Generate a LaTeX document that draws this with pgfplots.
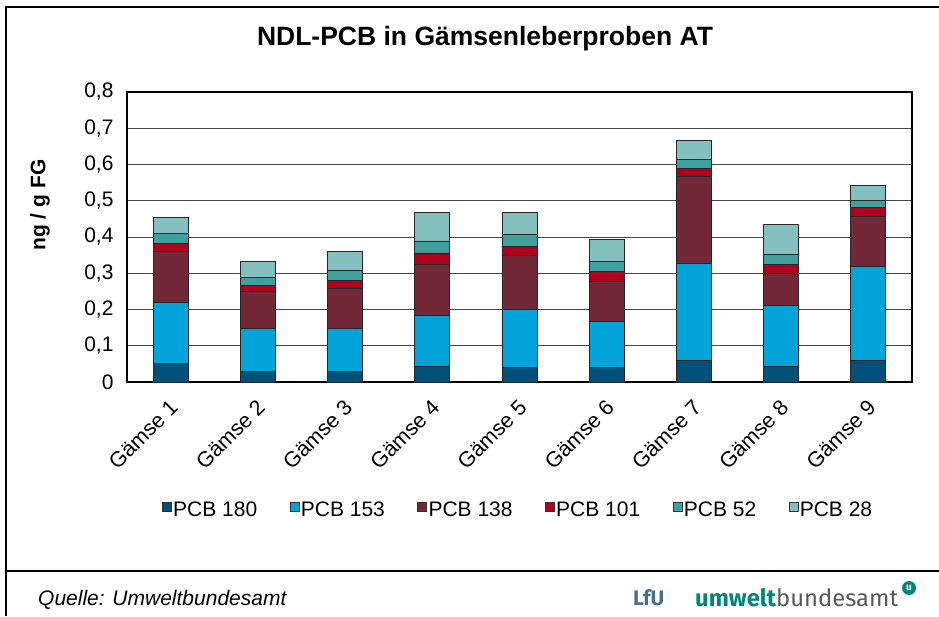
\documentclass[border=0pt]{standalone}
\usepackage{pgfplots}
\pgfplotsset{compat=1.18}
\usepackage{pgfplotstable}
\usepackage{fontspec}
\setmainfont{Liberation Sans}
\newfontfamily\logofont{Fira Sans}
\definecolor{c180}{HTML}{00507A}
\definecolor{c153}{HTML}{00A3DA}
\definecolor{c138}{HTML}{722837}
\definecolor{c101}{HTML}{B0001E}
\definecolor{c52}{HTML}{40A09E}
\definecolor{c28}{HTML}{84C0C0}
\definecolor{lfu}{HTML}{4A6F86}
\definecolor{uba}{HTML}{00857A}
\pgfplotstableread{
x   p180  p153  p138  p101  p52   p28
0   0.050 0.170 0.140 0.023 0.027 0.044
1   0.030 0.118 0.102 0.017 0.022 0.044
2   0.030 0.118 0.110 0.023 0.026 0.052
3   0.044 0.140 0.141 0.031 0.033 0.079
4   0.040 0.159 0.150 0.025 0.034 0.059
5   0.039 0.128 0.111 0.027 0.028 0.061
6   0.059 0.268 0.240 0.021 0.026 0.053
7   0.042 0.170 0.088 0.024 0.027 0.083
8   0.059 0.260 0.138 0.025 0.020 0.040
}\datatable
\begin{document}
\begin{tikzpicture}[x=1pt,y=1pt]
\useasboundingbox (0,0) rectangle (939,616);
% frame
\draw[line width=2.3pt] (6,0) -- (6,609) -- (939,609);
\draw[line width=2.3pt] (6,45) -- (939,45);
% title
\node[font=\fontsize{26.5}{31}\selectfont\bfseries] at (485,577) {NDL-PCB in Gämsenleberproben AT};
% y label
\node[font=\fontsize{21}{25}\selectfont\bfseries, rotate=90] at (40,411) {ng / g FG};
\begin{axis}[
  at={(170.6pt,234pt)}, anchor=origin, scale only axis,
  width=785pt, height=290pt,
  ybar stacked, bar width=35pt,
  xmin=-0.5, xmax=8.5, ymin=0, ymax=0.8,
  xtick=data,
  xticklabels={Gämse 1,Gämse 2,Gämse 3,Gämse 4,Gämse 5,Gämse 6,Gämse 7,Gämse 8,Gämse 9},
  ytick={0,0.1,0.2,0.3,0.4,0.5,0.6,0.7,0.8},
  major tick length=0pt,
  ymajorgrids, grid style={gray!55!black, line width=1pt},
  axis line style={black, line width=1.2pt},
  /pgf/number format/.cd, use comma, fixed, precision=1, assume math mode=true,
  /pgfplots/.cd,
  yticklabel style={font=\fontsize{21}{25}\selectfont, xshift=-10pt},
  xticklabel style={font=\fontsize{21.5}{25}\selectfont, xshift=-2pt, yshift=-16pt, rotate=45, anchor=north east, inner sep=0pt},
  every axis plot/.append style={draw=black!85, line width=0.8pt},
  legend columns=6,
  legend style={at={(0.498,-0.441)}, anchor=center, draw=none, fill=none,
    font=\fontsize{21}{25}\selectfont, inner sep=0pt,
    nodes={inner sep=1.5pt},
    /tikz/every even column/.append style={column sep=31pt}},
  legend image code/.code={\draw[#1, draw=black!80, line width=0.6pt] (0pt,-1pt) rectangle (9pt,8pt);},
]
\addplot[fill=c180] table[x=x,y=p180]{\datatable};
\addplot[fill=c153] table[x=x,y=p153]{\datatable};
\addplot[fill=c138] table[x=x,y=p138]{\datatable};
\addplot[fill=c101] table[x=x,y=p101]{\datatable};
\addplot[fill=c52] table[x=x,y=p52]{\datatable};
\addplot[fill=c28] table[x=x,y=p28]{\datatable};
\legend{PCB 180,PCB 153,PCB 138,PCB 101,PCB 52,PCB 28}
\end{axis}
% footer
\node[anchor=west, font=\fontsize{21}{25}\selectfont\itshape, inner sep=0pt] at (38,16) {Quelle: Umweltbundesamt};
\node[anchor=west, font=\logofont\fontsize{21}{25}\selectfont\bfseries, text=lfu, inner sep=0pt] at (633,18) {LfU};
\node[anchor=west, font=\logofont\fontsize{23.8}{28}\selectfont, inner sep=0pt] at (695,18) {\textcolor{uba}{\bfseries umwelt}\textcolor{black!65}{bundesamt}};
\node[circle, fill=uba, inner sep=0pt, minimum size=14pt, text=white, font=\logofont\fontsize{10}{11}\selectfont\bfseries] at (909,28) {u};
\end{tikzpicture}
\end{document}
